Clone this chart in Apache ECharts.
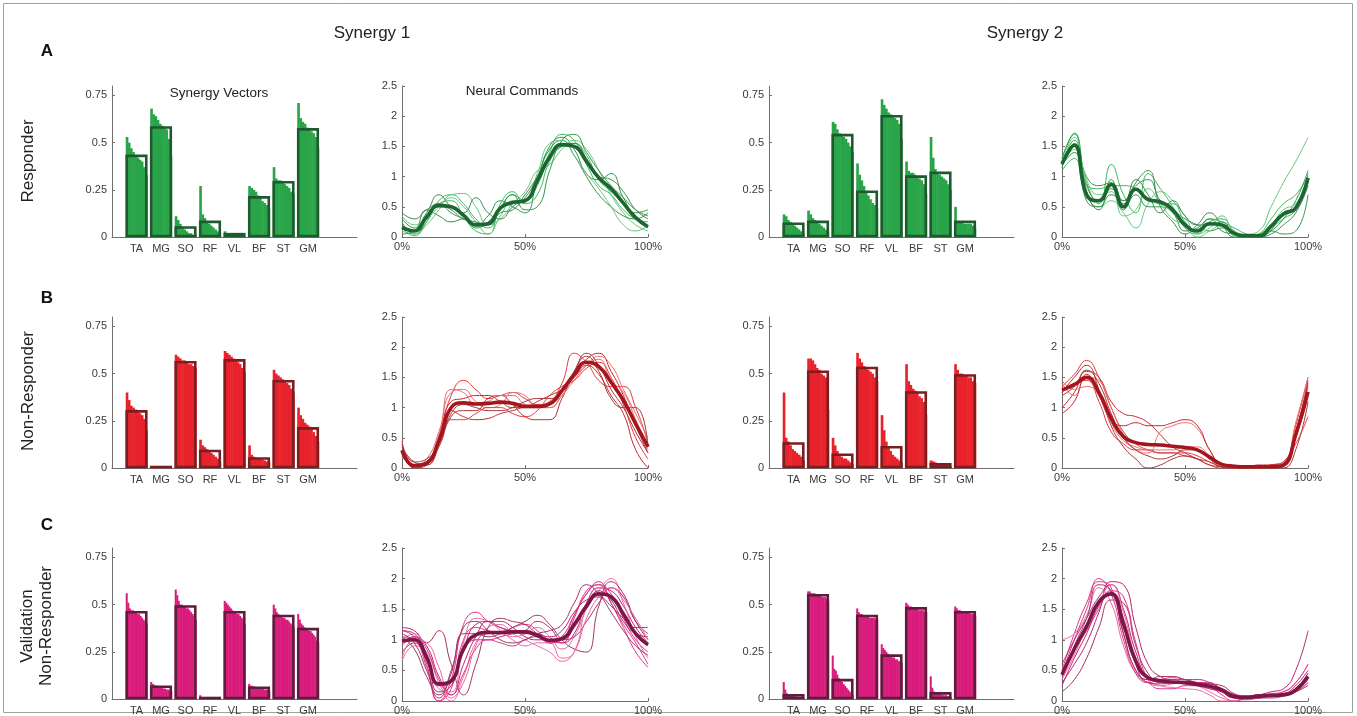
<!DOCTYPE html>
<html>
<head>
<meta charset="utf-8">
<script src="https://cdn.jsdelivr.net/npm/echarts@6/dist/echarts.min.js"></script>
<style>
  html, body { margin: 0; padding: 0; background: #fff; }
  #chart { width: 1357px; height: 716px; }
</style>
</head>
<body>
<div id="chart"></div>
<script>
const MUSCLES = ['TA', 'MG', 'SO', 'RF', 'VL', 'BF', 'ST', 'GM'];
const PHASE = [0, 5, 10, 15, 20, 25, 30, 35, 40, 45, 50, 55, 60, 65, 70, 75, 80, 85, 90, 95, 100];

// synergy vectors: per muscle, subjects sorted high -> low, plus the mean (outlined bar)
const A1_SUBJ = [
  [0.53, 0.50, 0.47, 0.45, 0.43, 0.42, 0.41, 0.40, 0.37, 0.33],
  [0.68, 0.65, 0.64, 0.62, 0.60, 0.59, 0.58, 0.57, 0.52, 0.43],
  [0.11, 0.09, 0.07, 0.05, 0.04, 0.03, 0.02, 0.02, 0.01, 0.01],
  [0.27, 0.12, 0.10, 0.08, 0.07, 0.06, 0.05, 0.04, 0.03, 0.02],
  [0.03, 0.02, 0.02, 0.015, 0.015, 0.01, 0.01, 0.01, 0.01, 0.005],
  [0.27, 0.26, 0.25, 0.24, 0.22, 0.21, 0.19, 0.18, 0.17, 0.15],
  [0.37, 0.31, 0.30, 0.30, 0.29, 0.28, 0.27, 0.26, 0.24, 0.23],
  [0.71, 0.63, 0.61, 0.60, 0.58, 0.57, 0.56, 0.55, 0.53, 0.47]
];
const A1_MEAN = [0.43, 0.58, 0.05, 0.08, 0.015, 0.21, 0.29, 0.57];

const A2_SUBJ = [
  [0.12, 0.11, 0.09, 0.08, 0.07, 0.06, 0.05, 0.04, 0.03, 0.02],
  [0.14, 0.12, 0.10, 0.09, 0.08, 0.07, 0.06, 0.05, 0.04, 0.03],
  [0.61, 0.60, 0.57, 0.55, 0.54, 0.53, 0.52, 0.50, 0.48, 0.45],
  [0.39, 0.33, 0.30, 0.27, 0.24, 0.22, 0.20, 0.18, 0.17, 0.15],
  [0.73, 0.70, 0.68, 0.66, 0.65, 0.64, 0.63, 0.62, 0.60, 0.52],
  [0.40, 0.35, 0.34, 0.34, 0.33, 0.32, 0.31, 0.30, 0.28, 0.23],
  [0.53, 0.42, 0.36, 0.34, 0.33, 0.32, 0.31, 0.30, 0.28, 0.25],
  [0.16, 0.08, 0.08, 0.08, 0.07, 0.07, 0.07, 0.07, 0.06, 0.05]
];
const A2_MEAN = [0.07, 0.08, 0.54, 0.24, 0.64, 0.32, 0.34, 0.08];

const B1_SUBJ = [
  [0.40, 0.36, 0.33, 0.32, 0.31, 0.30, 0.29, 0.28, 0.26, 0.20],
  [0.01, 0.008, 0.006, 0.005, 0.004, 0.003, 0.003, 0.002, 0.002, 0.001],
  [0.60, 0.59, 0.58, 0.57, 0.57, 0.56, 0.55, 0.55, 0.54, 0.53],
  [0.15, 0.12, 0.11, 0.10, 0.09, 0.08, 0.07, 0.06, 0.05, 0.03],
  [0.62, 0.61, 0.60, 0.59, 0.58, 0.57, 0.56, 0.55, 0.53, 0.51],
  [0.12, 0.07, 0.06, 0.055, 0.05, 0.05, 0.045, 0.04, 0.035, 0.03],
  [0.52, 0.50, 0.49, 0.48, 0.47, 0.46, 0.45, 0.44, 0.42, 0.40],
  [0.32, 0.28, 0.26, 0.24, 0.23, 0.22, 0.21, 0.19, 0.17, 0.14]
];
const B1_MEAN = [0.30, 0.005, 0.56, 0.09, 0.57, 0.05, 0.46, 0.21];

const B2_SUBJ = [
  [0.40, 0.16, 0.14, 0.12, 0.10, 0.09, 0.08, 0.07, 0.06, 0.04],
  [0.58, 0.58, 0.57, 0.55, 0.53, 0.52, 0.50, 0.49, 0.48, 0.31],
  [0.16, 0.12, 0.09, 0.07, 0.06, 0.05, 0.05, 0.04, 0.03, 0.02],
  [0.61, 0.58, 0.56, 0.54, 0.53, 0.52, 0.51, 0.50, 0.48, 0.46],
  [0.28, 0.20, 0.14, 0.11, 0.09, 0.07, 0.06, 0.05, 0.04, 0.03],
  [0.55, 0.46, 0.44, 0.42, 0.41, 0.40, 0.38, 0.37, 0.35, 0.28],
  [0.04, 0.035, 0.03, 0.025, 0.02, 0.02, 0.02, 0.02, 0.015, 0.01],
  [0.55, 0.52, 0.50, 0.50, 0.49, 0.49, 0.48, 0.48, 0.46, 0.45]
];
const B2_MEAN = [0.13, 0.51, 0.07, 0.53, 0.11, 0.40, 0.02, 0.49];

const C1_SUBJ = [
  [0.56, 0.51, 0.48, 0.47, 0.47, 0.46, 0.46, 0.45, 0.45, 0.44, 0.43, 0.42, 0.41, 0.40],
  [0.09, 0.08, 0.075, 0.07, 0.07, 0.065, 0.06, 0.06, 0.055, 0.055, 0.05, 0.05, 0.045, 0.04],
  [0.58, 0.55, 0.52, 0.50, 0.50, 0.49, 0.49, 0.48, 0.48, 0.47, 0.46, 0.45, 0.44, 0.42],
  [0.02, 0.01, 0.008, 0.006, 0.005, 0.005, 0.004, 0.004, 0.003, 0.003, 0.002, 0.002, 0.002, 0.001],
  [0.52, 0.51, 0.50, 0.49, 0.48, 0.47, 0.46, 0.46, 0.45, 0.45, 0.44, 0.43, 0.42, 0.40],
  [0.08, 0.07, 0.07, 0.065, 0.065, 0.06, 0.06, 0.06, 0.055, 0.055, 0.05, 0.05, 0.05, 0.04],
  [0.50, 0.48, 0.46, 0.45, 0.44, 0.44, 0.43, 0.43, 0.42, 0.42, 0.41, 0.40, 0.39, 0.38],
  [0.45, 0.42, 0.40, 0.39, 0.38, 0.37, 0.37, 0.36, 0.36, 0.35, 0.34, 0.33, 0.31, 0.30]
];
const C1_MEAN = [0.46, 0.065, 0.49, 0.005, 0.46, 0.06, 0.44, 0.37];

const C2_SUBJ = [
  [0.09, 0.05, 0.03, 0.025, 0.02, 0.02, 0.015, 0.015, 0.01, 0.01, 0.01, 0.01, 0.005, 0.005],
  [0.57, 0.57, 0.56, 0.56, 0.56, 0.55, 0.55, 0.55, 0.55, 0.54, 0.54, 0.54, 0.53, 0.52],
  [0.23, 0.16, 0.15, 0.13, 0.11, 0.10, 0.09, 0.08, 0.07, 0.06, 0.05, 0.04, 0.03, 0.02],
  [0.48, 0.46, 0.45, 0.45, 0.44, 0.44, 0.44, 0.44, 0.43, 0.43, 0.43, 0.43, 0.42, 0.42],
  [0.29, 0.27, 0.26, 0.25, 0.24, 0.23, 0.23, 0.22, 0.22, 0.21, 0.21, 0.20, 0.20, 0.19],
  [0.51, 0.50, 0.49, 0.49, 0.48, 0.48, 0.48, 0.48, 0.47, 0.47, 0.47, 0.47, 0.46, 0.46],
  [0.12, 0.06, 0.04, 0.035, 0.03, 0.03, 0.025, 0.025, 0.02, 0.02, 0.02, 0.015, 0.015, 0.01],
  [0.49, 0.48, 0.47, 0.47, 0.46, 0.46, 0.46, 0.46, 0.46, 0.46, 0.45, 0.45, 0.45, 0.44]
];
const C2_MEAN = [0.02, 0.55, 0.10, 0.44, 0.23, 0.48, 0.03, 0.46];

// neural commands: single trials + average, sampled every 5% of the cycle
const A1_TRIALS = [
  [0.25, 0.05, 0.25, 0.60, 0.70, 0.55, 0.30, 0.15, 0.45, 0.70, 0.60, 0.85, 1.40, 1.70, 1.60, 1.20, 0.85, 0.70, 0.45, 0.30, 0.25],
  [0.40, 0.30, 0.45, 0.55, 0.40, 0.30, 0.20, 0.35, 0.60, 0.50, 0.40, 0.95, 1.50, 1.65, 1.45, 1.05, 0.95, 1.05, 0.65, 0.40, 0.45],
  [0.10, 0.05, 0.20, 0.45, 0.70, 0.72, 0.50, 0.20, 0.30, 0.55, 0.75, 1.10, 1.20, 1.45, 1.60, 1.45, 1.10, 0.70, 0.40, 0.20, 0.10],
  [0.30, 0.15, 0.40, 0.70, 0.50, 0.40, 0.65, 0.40, 0.30, 0.50, 0.65, 1.00, 1.45, 1.60, 1.35, 1.00, 0.70, 0.50, 0.35, 0.30, 0.40],
  [0.15, 0.02, 0.25, 0.55, 0.60, 0.35, 0.10, 0.05, 0.55, 0.75, 0.55, 0.70, 1.25, 1.50, 1.55, 1.35, 0.95, 0.75, 0.55, 0.30, 0.15],
  [0.05, 0.10, 0.45, 0.35, 0.25, 0.30, 0.15, 0.25, 0.50, 0.70, 0.45, 0.50, 1.10, 1.60, 1.70, 1.40, 1.10, 0.85, 0.65, 0.45, 0.35],
  [0.35, 0.20, 0.30, 0.50, 0.65, 0.50, 0.25, 0.05, 0.35, 0.60, 0.60, 1.05, 1.55, 1.60, 1.35, 1.05, 0.80, 0.50, 0.20, 0.10, 0.20],
  [0.20, 0.10, 0.30, 0.55, 0.45, 0.30, 0.25, 0.20, 0.40, 0.45, 0.70, 1.00, 1.35, 1.50, 1.55, 1.30, 1.00, 0.95, 0.75, 0.45, 0.30]
];
const A1_AVG = [0.16, 0.10, 0.33, 0.52, 0.50, 0.36, 0.20, 0.22, 0.48, 0.57, 0.60, 0.93, 1.32, 1.53, 1.50, 1.25, 0.98, 0.80, 0.56, 0.32, 0.17];

const A2_TRIALS = [
  [1.30, 1.70, 0.90, 0.55, 1.20, 0.70, 0.40, 1.05, 0.80, 0.50, 0.15, 0.05, 0.25, 0.30, 0.10, 0.00, 0.05, 0.30, 0.55, 0.70, 1.00],
  [1.15, 1.60, 1.00, 0.85, 0.90, 0.60, 0.85, 0.95, 0.60, 0.45, 0.30, 0.20, 0.10, 0.15, 0.05, 0.00, 0.00, 0.10, 0.30, 0.60, 1.10],
  [1.25, 1.45, 0.70, 0.50, 0.60, 0.40, 0.15, 0.55, 0.75, 0.60, 0.35, 0.05, 0.15, 0.35, 0.10, 0.05, 0.10, 0.50, 0.90, 1.25, 1.65],
  [1.20, 1.55, 0.85, 0.60, 0.80, 0.55, 0.90, 1.10, 0.50, 0.25, 0.05, 0.20, 0.40, 0.20, 0.00, 0.00, 0.00, 0.05, 0.20, 0.40, 0.85],
  [1.10, 1.30, 0.85, 0.80, 0.85, 0.85, 0.80, 0.65, 0.55, 0.55, 0.25, 0.10, 0.30, 0.25, 0.15, 0.05, 0.00, 0.15, 0.30, 0.45, 0.95],
  [1.30, 1.72, 0.75, 0.45, 0.95, 0.45, 0.70, 0.50, 0.50, 0.40, 0.10, 0.15, 0.30, 0.10, 0.05, 0.02, 0.05, 0.10, 0.05, 0.10, 0.70],
  [1.25, 1.65, 0.95, 0.70, 0.75, 0.35, 0.45, 0.80, 0.55, 0.30, 0.20, 0.00, 0.10, 0.20, 0.02, 0.00, 0.05, 0.20, 0.45, 0.55, 0.90],
  [1.20, 1.40, 0.60, 0.50, 0.70, 0.60, 0.95, 0.70, 0.40, 0.60, 0.35, 0.20, 0.20, 0.25, 0.05, 0.00, 0.00, 0.12, 0.40, 0.50, 1.05]
];
const A2_AVG = [1.21, 1.52, 0.70, 0.60, 0.87, 0.50, 0.79, 0.62, 0.58, 0.45, 0.20, 0.10, 0.22, 0.20, 0.06, 0.02, 0.02, 0.18, 0.38, 0.48, 0.98];

const B1_TRIALS = [
  [0.45, 0.05, 0.05, 0.50, 1.20, 1.45, 1.30, 1.15, 1.20, 1.25, 1.15, 1.05, 1.10, 1.40, 1.90, 1.75, 1.45, 1.35, 1.35, 1.00, 0.40],
  [0.30, 0.00, 0.10, 0.45, 0.95, 0.85, 0.80, 0.82, 0.90, 0.95, 1.00, 1.00, 1.05, 1.30, 1.55, 1.80, 1.90, 1.60, 1.20, 0.70, 0.25],
  [0.20, 0.05, 0.15, 0.60, 1.25, 1.30, 1.10, 1.00, 1.05, 1.25, 1.20, 1.00, 1.00, 1.20, 1.50, 1.70, 1.85, 1.70, 1.30, 0.90, 0.50],
  [0.35, 0.10, 0.05, 0.35, 0.85, 0.95, 0.95, 1.15, 1.20, 1.05, 0.85, 0.80, 0.80, 1.15, 1.60, 1.85, 1.60, 1.15, 1.00, 1.00, 0.35],
  [0.25, 0.05, 0.10, 0.40, 0.80, 0.80, 0.90, 1.00, 1.00, 0.90, 0.85, 0.95, 1.20, 1.35, 1.45, 1.65, 1.75, 1.50, 1.05, 0.50, 0.15],
  [0.30, 0.00, 0.05, 0.50, 1.10, 1.15, 1.20, 1.20, 1.10, 1.00, 1.00, 1.10, 1.20, 1.30, 1.50, 1.70, 1.55, 1.20, 0.90, 0.30, 0.00],
  [0.20, 0.05, 0.10, 0.55, 1.30, 1.25, 1.05, 1.10, 1.20, 1.20, 1.05, 1.00, 1.00, 1.20, 1.45, 1.70, 1.80, 1.45, 1.25, 0.80, 0.30],
  [0.40, 0.10, 0.15, 0.40, 0.90, 1.05, 1.00, 0.95, 0.95, 1.00, 1.10, 1.15, 1.15, 1.25, 1.60, 1.90, 1.70, 1.30, 1.00, 0.60, 0.25]
];
const B1_AVG = [0.29, 0.04, 0.08, 0.45, 1.00, 1.08, 1.06, 1.07, 1.09, 1.07, 1.02, 1.02, 1.06, 1.28, 1.55, 1.75, 1.68, 1.42, 1.12, 0.73, 0.35];

const B2_TRIALS = [
  [1.35, 1.55, 1.78, 1.50, 1.00, 0.60, 0.40, 0.30, 0.25, 0.25, 0.20, 0.15, 0.05, 0.00, 0.00, 0.00, 0.02, 0.02, 0.05, 0.70, 1.50],
  [1.00, 1.25, 1.60, 1.50, 1.10, 0.90, 0.85, 0.75, 0.55, 0.35, 0.25, 0.15, 0.05, 0.02, 0.00, 0.00, 0.02, 0.05, 0.10, 0.60, 1.45],
  [1.40, 1.20, 1.50, 1.45, 1.00, 0.55, 0.30, 0.25, 0.60, 0.70, 0.75, 0.65, 0.30, 0.05, 0.02, 0.00, 0.00, 0.02, 0.05, 0.50, 1.35],
  [1.25, 1.50, 1.70, 1.30, 0.70, 0.35, 0.15, 0.00, 0.05, 0.15, 0.20, 0.15, 0.10, 0.02, 0.00, 0.00, 0.00, 0.02, 0.00, 0.30, 1.10],
  [1.30, 1.40, 1.45, 1.10, 0.60, 0.40, 0.30, 0.30, 0.25, 0.25, 0.25, 0.20, 0.10, 0.02, 0.00, 0.00, 0.00, 0.05, 0.10, 0.40, 0.85],
  [0.90, 1.10, 1.55, 1.20, 0.80, 0.70, 0.75, 0.70, 0.70, 0.75, 0.80, 0.70, 0.30, 0.05, 0.02, 0.02, 0.05, 0.05, 0.05, 0.60, 1.40],
  [1.45, 1.30, 1.35, 1.20, 0.75, 0.45, 0.35, 0.30, 0.30, 0.30, 0.35, 0.35, 0.20, 0.05, 0.00, 0.02, 0.02, 0.02, 0.05, 0.75, 1.50],
  [1.20, 1.35, 1.62, 1.40, 0.90, 0.50, 0.30, 0.20, 0.15, 0.20, 0.30, 0.30, 0.15, 0.02, 0.00, 0.00, 0.00, 0.00, 0.02, 0.50, 1.20]
];
const B2_AVG = [1.29, 1.38, 1.50, 1.25, 0.82, 0.52, 0.42, 0.39, 0.38, 0.36, 0.34, 0.30, 0.18, 0.06, 0.03, 0.02, 0.02, 0.02, 0.05, 0.55, 1.26];

const C1_TRIALS = [
  [1.15, 1.10, 0.60, 0.00, 0.20, 1.00, 1.20, 1.15, 1.10, 1.20, 1.25, 1.15, 0.95, 1.00, 1.40, 1.75, 1.90, 1.75, 1.35, 1.00, 0.80],
  [0.95, 1.05, 0.90, 0.40, 0.10, 0.60, 1.05, 1.30, 1.30, 1.20, 1.05, 1.00, 1.00, 0.95, 1.10, 1.60, 1.85, 1.80, 1.55, 1.20, 0.95],
  [0.65, 0.90, 0.80, 0.30, 0.00, 0.40, 0.95, 1.10, 1.10, 1.05, 1.10, 1.20, 1.05, 0.85, 1.05, 1.50, 1.80, 2.00, 1.60, 1.05, 0.70],
  [1.20, 1.15, 0.95, 1.15, 0.60, 0.10, 0.60, 1.20, 1.35, 1.30, 1.25, 1.10, 1.00, 1.00, 1.20, 1.55, 1.80, 1.65, 1.30, 1.10, 1.05],
  [1.05, 1.00, 0.55, 0.00, 0.35, 1.25, 1.45, 1.30, 1.20, 1.15, 1.10, 1.10, 1.00, 0.95, 1.35, 1.80, 1.90, 1.60, 1.25, 0.95, 0.60],
  [0.80, 0.95, 0.65, 0.15, 0.25, 0.80, 1.00, 1.00, 1.05, 1.10, 1.15, 1.30, 1.20, 1.00, 1.05, 1.30, 1.60, 1.85, 1.70, 1.30, 1.10],
  [1.00, 1.10, 0.75, 0.20, 0.15, 0.95, 1.35, 1.30, 1.15, 1.00, 0.90, 0.95, 0.95, 0.70, 0.80, 1.55, 1.85, 1.70, 1.40, 1.10, 0.90],
  [1.10, 0.95, 0.50, 0.05, 0.45, 1.10, 1.10, 1.05, 1.10, 1.20, 1.30, 1.40, 1.25, 1.00, 0.85, 0.80, 1.55, 1.95, 1.75, 1.30, 1.00],
  [0.90, 1.05, 0.85, 0.35, 0.10, 0.45, 0.85, 1.00, 0.95, 0.90, 1.00, 1.05, 0.95, 1.05, 1.40, 1.75, 1.95, 1.60, 1.20, 0.80, 0.55],
  [1.15, 1.05, 0.70, 0.25, 0.30, 0.85, 1.25, 1.30, 1.20, 1.15, 1.15, 1.10, 1.05, 1.15, 1.45, 1.65, 1.70, 1.55, 1.35, 1.20, 1.20],
  [0.70, 1.00, 0.95, 0.55, 0.05, 0.30, 0.90, 1.20, 1.25, 1.10, 1.00, 0.90, 0.80, 0.65, 0.80, 1.35, 1.70, 1.85, 1.65, 1.35, 1.00],
  [1.05, 0.85, 0.40, 0.10, 0.50, 1.20, 1.30, 1.15, 1.00, 0.95, 1.00, 1.10, 1.15, 1.25, 1.60, 1.90, 1.75, 1.45, 1.15, 0.90, 0.75]
];
const C1_AVG = [0.98, 1.00, 0.72, 0.28, 0.33, 0.85, 1.08, 1.12, 1.12, 1.13, 1.13, 1.07, 0.99, 1.02, 1.25, 1.55, 1.75, 1.70, 1.42, 1.10, 0.92];

const C2_TRIALS = [
  [0.50, 1.10, 1.60, 1.95, 1.85, 1.10, 0.50, 0.35, 0.35, 0.35, 0.30, 0.30, 0.30, 0.15, 0.05, 0.05, 0.10, 0.10, 0.12, 0.20, 0.45],
  [0.30, 0.60, 0.95, 1.45, 1.95, 1.90, 1.20, 0.60, 0.40, 0.35, 0.35, 0.35, 0.30, 0.20, 0.10, 0.05, 0.05, 0.10, 0.10, 0.20, 0.35],
  [1.00, 1.10, 1.40, 1.85, 1.60, 0.90, 0.45, 0.30, 0.25, 0.28, 0.30, 0.25, 0.15, 0.05, 0.00, 0.05, 0.10, 0.10, 0.15, 0.30, 0.60],
  [0.15, 0.35, 0.70, 1.20, 1.65, 1.60, 0.90, 0.45, 0.30, 0.30, 0.32, 0.30, 0.25, 0.20, 0.10, 0.05, 0.05, 0.05, 0.08, 0.15, 0.25],
  [0.45, 1.00, 1.50, 2.00, 1.75, 1.00, 0.45, 0.30, 0.35, 0.38, 0.35, 0.30, 0.25, 0.10, 0.00, 0.05, 0.10, 0.12, 0.15, 0.30, 0.60],
  [0.60, 1.00, 1.35, 1.70, 1.90, 1.50, 0.80, 0.40, 0.35, 0.30, 0.28, 0.25, 0.20, 0.15, 0.10, 0.08, 0.10, 0.15, 0.20, 0.50, 1.15],
  [0.35, 0.75, 1.20, 1.60, 1.90, 1.45, 0.70, 0.35, 0.25, 0.22, 0.20, 0.18, 0.10, 0.00, 0.00, 0.05, 0.08, 0.10, 0.10, 0.15, 0.30],
  [0.40, 0.90, 1.35, 1.90, 1.80, 1.10, 0.50, 0.35, 0.40, 0.40, 0.35, 0.30, 0.28, 0.25, 0.12, 0.08, 0.10, 0.08, 0.10, 0.20, 0.45],
  [0.50, 0.85, 1.15, 1.50, 1.80, 1.70, 0.95, 0.35, 0.20, 0.20, 0.25, 0.25, 0.20, 0.15, 0.05, 0.02, 0.05, 0.08, 0.10, 0.15, 0.30],
  [0.25, 0.70, 1.10, 1.55, 1.75, 1.35, 0.60, 0.30, 0.28, 0.30, 0.32, 0.30, 0.28, 0.20, 0.10, 0.05, 0.05, 0.10, 0.12, 0.25, 0.50]
];
const C2_AVG = [0.43, 0.85, 1.22, 1.62, 1.75, 1.25, 0.65, 0.38, 0.33, 0.31, 0.30, 0.27, 0.24, 0.18, 0.07, 0.06, 0.08, 0.09, 0.10, 0.18, 0.40];

const FONT = '"Liberation Sans", Arial, Helvetica, sans-serif';
const AXIS_COLOR = '#6f6f6f';
const TEXT_COLOR = '#3a3a3a';
const BAR_FRAC = 0.88;

const ROWS = [
  { top: 86, height: 151, fill: '#29a449', edge: '#1f5a2e', thin: ['#3bb85c', '#2f964a', '#62c97c', '#3f8a52'], avg: '#1b6631' },
  { top: 317, height: 151, fill: '#e8222b', edge: '#7c1d22', thin: ['#e23a40', '#c4262c', '#ee6a6e', '#a8343a'], avg: '#a3161d' },
  { top: 548, height: 153, fill: '#d81c7c', edge: '#5c1e3b', thin: ['#e0318a', '#bf2170', '#ea68a6', '#a0345f'], avg: '#7a1746' }
];
const COLS = [
  { left: 112, width: 245 },
  { left: 402, width: 246 },
  { left: 769, width: 245 },
  { left: 1062, width: 246 }
];
const PANELS = [
  { row: 0, col: 0, subj: A1_SUBJ, mean: A1_MEAN },
  { row: 0, col: 1, trials: A1_TRIALS, avg: A1_AVG },
  { row: 0, col: 2, subj: A2_SUBJ, mean: A2_MEAN },
  { row: 0, col: 3, trials: A2_TRIALS, avg: A2_AVG },
  { row: 1, col: 0, subj: B1_SUBJ, mean: B1_MEAN },
  { row: 1, col: 1, trials: B1_TRIALS, avg: B1_AVG },
  { row: 1, col: 2, subj: B2_SUBJ, mean: B2_MEAN },
  { row: 1, col: 3, trials: B2_TRIALS, avg: B2_AVG },
  { row: 2, col: 0, subj: C1_SUBJ, mean: C1_MEAN },
  { row: 2, col: 1, trials: C1_TRIALS, avg: C1_AVG },
  { row: 2, col: 2, subj: C2_SUBJ, mean: C2_MEAN },
  { row: 2, col: 3, trials: C2_TRIALS, avg: C2_AVG }
];

const labelStyle = { color: TEXT_COLOR, fontFamily: FONT, fontSize: 11 };

// one narrow bar per subject, packed side by side inside the muscle's slot
function renderSubject(params, api) {
  const x = api.value(0), v = api.value(1), k = api.value(2), n = api.value(3);
  const slot = api.size([1, 0])[0] * BAR_FRAC;
  const base = api.coord([x, 0]);
  const top = api.coord([x, v]);
  const w = slot / n;
  return {
    type: 'rect',
    shape: { x: base[0] - slot / 2 + k * w, y: top[1], width: w + 0.5, height: base[1] - top[1] },
    style: { fill: api.visual('color') }
  };
}

function makeMeanRenderer(edge) {
  return (params, api) => {
    const x = api.value(0), v = api.value(1);
    const slot = api.size([1, 0])[0] * BAR_FRAC;
    const base = api.coord([x, 0]);
    const top = api.coord([x, v]);
    return {
      type: 'rect',
      shape: { x: base[0] - slot / 2 + 1, y: top[1], width: slot - 2, height: base[1] - top[1] - 1 },
      style: { fill: 'none', stroke: edge, lineWidth: 2.6 }
    };
  };
}

const grid = [], xAxis = [], yAxis = [], series = [];
PANELS.forEach((p, i) => {
  const r = ROWS[p.row], c = COLS[p.col];
  grid.push({ left: c.left, top: r.top, width: c.width, height: r.height });
  if (p.subj) {
    xAxis.push({
      gridIndex: i, type: 'value', min: 0, max: 10,
      axisLine: { lineStyle: { color: AXIS_COLOR, width: 1 } },
      axisTick: { show: false },
      splitLine: { show: false },
      axisLabel: Object.assign({ customValues: [1, 2, 3, 4, 5, 6, 7, 8], margin: 6,
        formatter: v => MUSCLES[Math.round(v) - 1] || '' }, labelStyle)
    });
    yAxis.push({
      gridIndex: i, type: 'value', min: 0, max: 0.8,
      axisLine: { show: true, lineStyle: { color: AXIS_COLOR, width: 1 } },
      axisTick: { show: true, inside: true, length: 3, customValues: [0, 0.25, 0.5, 0.75], lineStyle: { color: AXIS_COLOR } },
      splitLine: { show: false },
      axisLabel: Object.assign({ customValues: [0, 0.25, 0.5, 0.75], margin: 5 }, labelStyle)
    });
    const items = [];
    p.subj.forEach((vals, m) => vals.forEach((v, k) => items.push([m + 1, v, k, vals.length])));
    series.push({
      type: 'custom', xAxisIndex: i, yAxisIndex: i, renderItem: renderSubject,
      itemStyle: { color: r.fill }, data: items, z: 2, silent: true
    });
    series.push({
      type: 'custom', xAxisIndex: i, yAxisIndex: i, renderItem: makeMeanRenderer(r.edge),
      data: p.mean.map((v, m) => [m + 1, v]), z: 3, silent: true
    });
  } else {
    xAxis.push({
      gridIndex: i, type: 'value', min: 0, max: 100, interval: 50,
      axisLine: { lineStyle: { color: AXIS_COLOR, width: 1 } },
      axisTick: { show: true, inside: true, length: 3, lineStyle: { color: AXIS_COLOR } },
      splitLine: { show: false },
      axisLabel: Object.assign({ formatter: '{value}%', margin: 4 }, labelStyle)
    });
    yAxis.push({
      gridIndex: i, type: 'value', min: 0, max: 2.5, interval: 0.5,
      axisLine: { show: true, lineStyle: { color: AXIS_COLOR, width: 1 } },
      axisTick: { show: true, inside: true, length: 3, lineStyle: { color: AXIS_COLOR } },
      splitLine: { show: false },
      axisLabel: Object.assign({ margin: 5 }, labelStyle)
    });
    p.trials.forEach((t, j) => {
      series.push({
        type: 'line', xAxisIndex: i, yAxisIndex: i, smooth: 0.5, symbol: 'none', silent: true, z: 2,
        lineStyle: { width: 1, color: r.thin[j % r.thin.length] },
        data: PHASE.map((x, k) => [x, t[k]])
      });
    });
    series.push({
      type: 'line', xAxisIndex: i, yAxisIndex: i, smooth: 0.5, symbol: 'none', silent: true, z: 3,
      lineStyle: { width: 3.6, color: r.avg },
      data: PHASE.map((x, k) => [x, p.avg[k]])
    });
  }
});

function txt(x, y, text, size, extra) {
  return Object.assign({
    type: 'text', x: x, y: y,
    style: { text: text, font: size + 'px ' + FONT, fill: '#222', align: 'center', verticalAlign: 'middle' }
  }, extra || {});
}

function letter(x, y, text) {
  return {
    type: 'text', x: x, y: y,
    style: { text: text, font: 'bold 17px ' + FONT, fill: '#111', align: 'center', verticalAlign: 'middle' }
  };
}

const graphic = [
  { type: 'rect', shape: { x: 3.5, y: 3.5, width: 1349, height: 709 }, style: { fill: 'none', stroke: '#a0a0a0', lineWidth: 1 } },
  txt(372, 33, 'Synergy 1', 17),
  txt(1025, 33, 'Synergy 2', 17),
  txt(219, 93, 'Synergy Vectors', 13.5),
  txt(522, 91, 'Neural Commands', 13.5),
  letter(47, 51, 'A'),
  letter(47, 298, 'B'),
  letter(47, 525, 'C'),
  txt(28, 161, 'Responder', 17, { rotation: Math.PI / 2 }),
  txt(28, 391, 'Non-Responder', 17, { rotation: Math.PI / 2 }),
  txt(27, 626, 'Validation', 17, { rotation: Math.PI / 2 }),
  txt(46, 626, 'Non-Responder', 17, { rotation: Math.PI / 2 })
];

const chart = echarts.init(document.getElementById('chart'), null, { renderer: 'canvas' });
chart.setOption({
  animation: false,
  backgroundColor: '#ffffff',
  grid: grid,
  xAxis: xAxis,
  yAxis: yAxis,
  series: series,
  graphic: graphic
});
</script>
</body>
</html>
